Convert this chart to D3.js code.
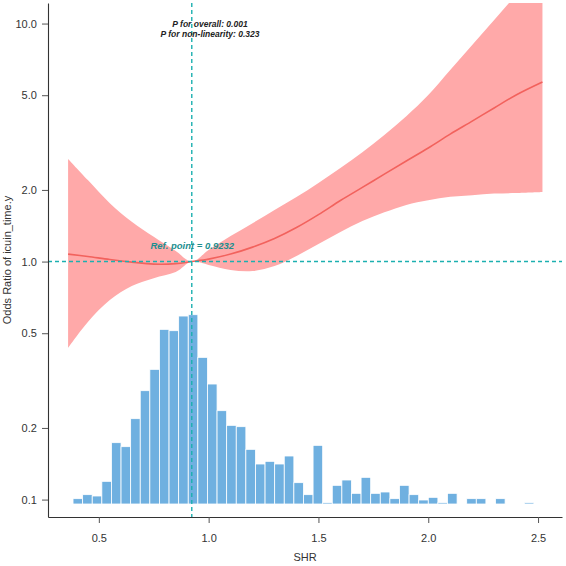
<!DOCTYPE html>
<html>
<head>
<meta charset="utf-8">
<script src="https://cdn.jsdelivr.net/npm/d3@7"></script>
<style>
  body { margin: 0; background: #fff; }
  svg { display: block; font-family: "Liberation Sans", Arial, sans-serif; }
</style>
</head>
<body>
<svg id="chart" width="566" height="566"></svg>
<script>
// Spline fit (odds ratio with 95% CI)
var shr   = [0.36, 0.45, 0.55, 0.65, 0.75, 0.85, 0.9232, 1.0, 1.1, 1.2, 1.3, 1.4, 1.5, 1.6, 1.7, 1.8, 1.9, 2.0, 2.1, 2.2, 2.3, 2.4, 2.52];
var or    = [1.075, 1.05, 1.02, 0.995, 0.976, 0.98, 1.0, 1.024, 1.075, 1.15, 1.25, 1.39, 1.575, 1.805, 2.05, 2.33, 2.645, 3.0, 3.43, 3.89, 4.42, 5.01, 5.68];
var lower = [0.433, 0.557, 0.689, 0.789, 0.852, 0.903, 1.0, 0.967, 0.921, 0.912, 0.957, 1.055, 1.184, 1.33, 1.48, 1.61, 1.73, 1.81, 1.87, 1.90, 1.93, 1.94, 1.96];
var upper = [2.70, 2.2, 1.76, 1.47, 1.27, 1.107, 1.0, 1.118, 1.28, 1.45, 1.646, 1.866, 2.14, 2.47, 2.88, 3.40, 4.08, 5.01, 6.38, 8.13, 10.34, 13.2, 17.6];

// Histogram of SHR (counts per bin)
var binStart = 0.3825;
var binWidth = 0.04372;
var counts = [4, 7, 6, 17, 46, 43, 64, 85, 101, 131, 130, 141, 142, 110, 90, 70, 59, 58, 41, 30,
              32, 30, 36, 16, 7, 44, 1, 14, 18, 8, 20, 8, 9, 4, 14, 7, 3, 5, 1, 8,
              0, 4, 4, 0, 4, 0, 0, 1];

// Axes
var xTicks = [0.5, 1.0, 1.5, 2.0, 2.5];
var yTicks = [0.1, 0.2, 0.5, 1.0, 2.0, 5.0, 10.0];
var refPoint = 0.9232;
var pOverall = "0.001";
var pNonLinear = "0.323";

var fit = shr.map(function(d, i) {
  return { x: d, y: or[i], lo: lower[i], hi: upper[i] };
});

var svg = d3.select("#chart");
var L = 48, R = 562, T = 3, B = 517;

var x = d3.scaleLinear().domain([0.2685, 2.609]).range([L, R]);
var y = d3.scaleLog().domain([0.0845, 12.2]).range([B, T]);
// histogram sits on its own count scale near the bottom
var yh = d3.scaleLinear().domain([0, 142]).range([504, 314.7]);

var teal = "#1cb0b0";

svg.append("defs").append("clipPath")
  .attr("id", "plotclip")
  .append("rect")
  .attr("x", L).attr("y", T)
  .attr("width", R - L).attr("height", B - T);

var plot = svg.append("g").attr("clip-path", "url(#plotclip)");

// CI ribbon
var area = d3.area()
  .x(function(d) { return x(d.x); })
  .y0(function(d) { return y(d.lo); })
  .y1(function(d) { return y(d.hi); })
  .curve(d3.curveCatmullRom.alpha(0.5));

plot.append("path")
  .datum(fit)
  .attr("d", area)
  .style("fill", "#ffa9a9")
  ;

// Fitted line
var line = d3.line()
  .x(function(d) { return x(d.x); })
  .y(function(d) { return y(d.y); })
  .curve(d3.curveCatmullRom.alpha(0.5));

plot.append("path")
  .datum(fit)
  .attr("d", line)
  .style("fill", "none")
  .style("stroke", "#f2625d")
  .style("stroke-width", 1.6)
  ;

// Histogram bars (skip empty bins)
var bars = counts
  .map(function(c, i) { return { x0: binStart + i * binWidth, n: c }; })
  .filter(function(d) { return d.n > 0; });

plot.selectAll("rect.bar")
  .data(bars)
  .enter().append("rect")
  .attr("class", "bar")
  .attr("x", function(d) { return x(d.x0); })
  .attr("width", x(binStart + binWidth) - x(binStart))
  .attr("y", function(d) { return yh(d.n); })
  .attr("height", function(d) { return yh(0) - yh(d.n); })
  .style("fill", "#6fb0e0")
  .style("stroke", "#fff")
  .style("stroke-width", 0.8)
  ;

// Reference lines
plot.append("line")
  .attr("x1", L).attr("x2", R)
  .attr("y1", y(1)).attr("y2", y(1))
  .style("stroke", teal)
  .style("stroke-width", 1.4)
  .style("stroke-dasharray", "4,3")
  ;

plot.append("line")
  .attr("x1", x(refPoint)).attr("x2", x(refPoint))
  .attr("y1", T).attr("y2", B)
  .style("stroke", teal)
  .style("stroke-width", 1.4)
  .style("stroke-dasharray", "4,3")
  ;

// Axes
var xAxis = svg.append("g")
  .attr("transform", "translate(0," + B + ")")
  .call(d3.axisBottom(x).tickValues(xTicks).tickFormat(d3.format(".1f")).tickSize(6).tickSizeOuter(0));

var yAxis = svg.append("g")
  .attr("transform", "translate(" + L + ",0)")
  .call(d3.axisLeft(y).tickValues(yTicks).tickFormat(d3.format(".1f")).tickSize(6).tickSizeOuter(0));

[xAxis, yAxis].forEach(function(a) {
  a.select(".domain").style("stroke", "#333").style("stroke-width", 1.1);
  a.selectAll(".tick line").style("stroke", "#555");
  a.selectAll(".tick text")
    .style("font-size", "11px")
    .style("fill", "#333")
    .style("font-family", "Liberation Sans, Arial, sans-serif");
});
xAxis.selectAll(".tick text").attr("dy", "1.45em");
yAxis.selectAll(".tick text").attr("dx", "-0.2em");

// Axis titles
svg.append("text")
  .attr("x", (L + R) / 2)
  .attr("y", 561)
  .style("text-anchor", "middle")
  .style("font-size", "11px")
  .style("fill", "#333")
  .text("SHR");

svg.append("text")
  .attr("transform", "translate(11," + ((T + B) / 2) + ") rotate(-90)")
  .style("text-anchor", "middle")
  .style("font-size", "11px")
  .style("fill", "#333")
  .text("Odds Ratio of icuin_time.y");

// Annotations
svg.append("text")
  .attr("x", 210).attr("y", 26.5)
  .style("text-anchor", "middle")
  .style("font-size", "8.5px")
  .style("font-weight", "bold")
  .style("font-style", "italic")
  .style("fill", "#222")
  .text("P for overall: " + pOverall);

svg.append("text")
  .attr("x", 210).attr("y", 36.5)
  .style("text-anchor", "middle")
  .style("font-size", "8.5px")
  .style("font-weight", "bold")
  .style("font-style", "italic")
  .style("fill", "#222")
  .text("P for non-linearity: " + pNonLinear);

svg.append("text")
  .attr("x", x(refPoint) + 0.5).attr("y", 248.5)
  .style("text-anchor", "middle")
  .style("font-size", "9.5px")
  .style("font-weight", "bold")
  .style("font-style", "italic")
  .style("fill", "#1d8f8f")
  .text("Ref. point = " + refPoint);
</script>
</body>
</html>
